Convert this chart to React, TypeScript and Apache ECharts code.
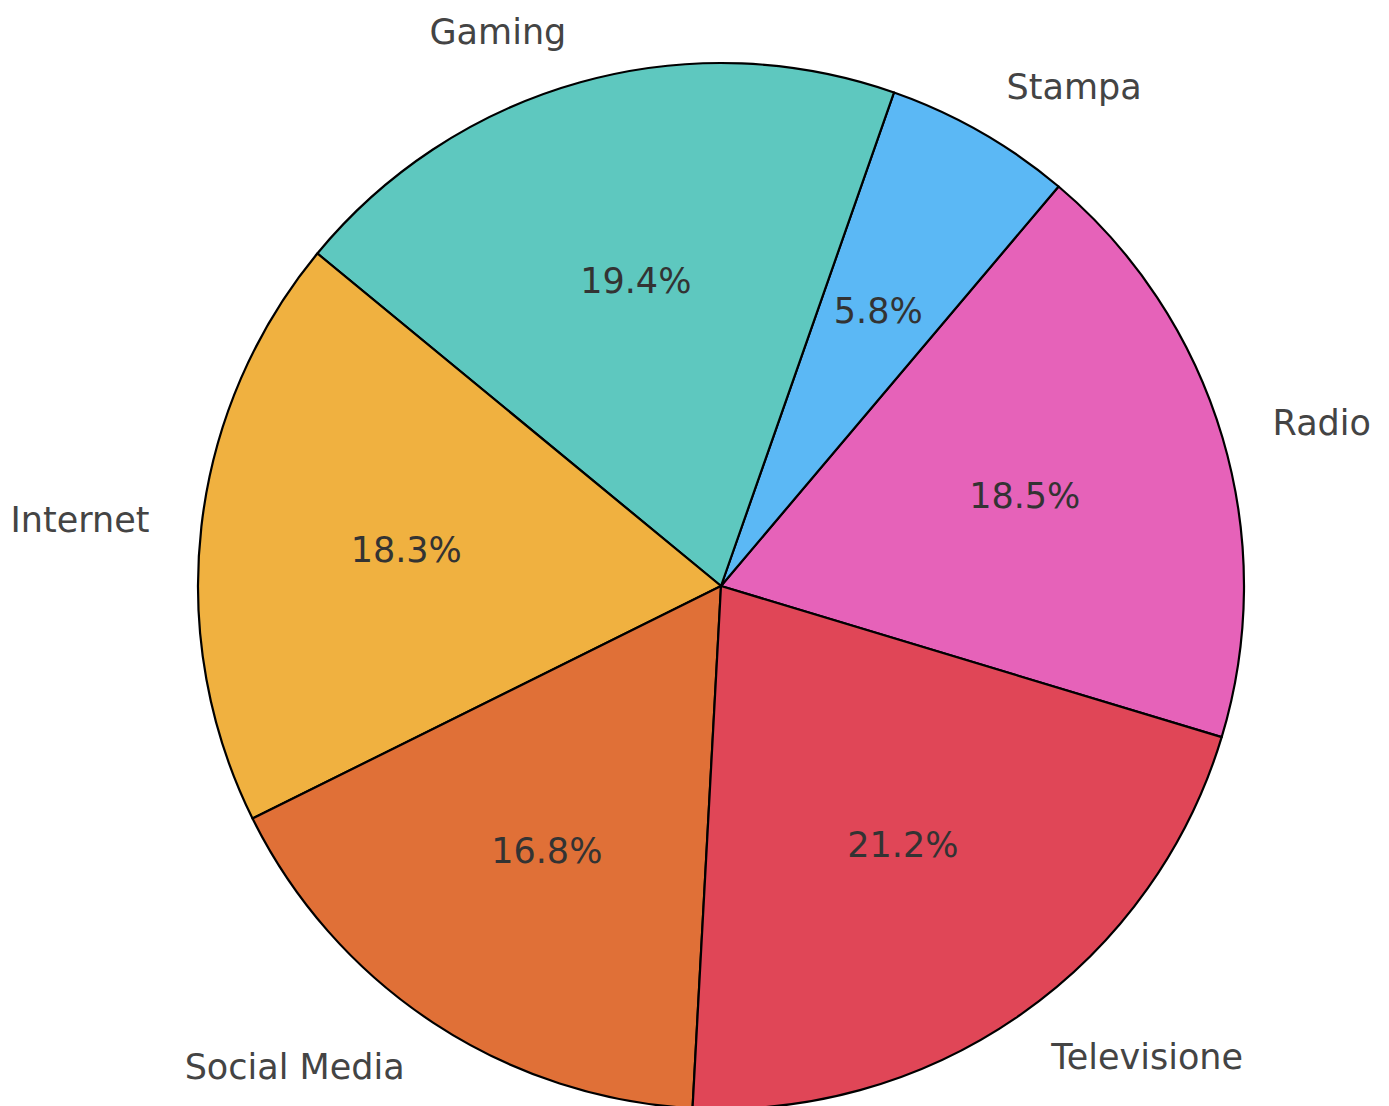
import React, { useEffect, useRef } from "react";
import * as echarts from "echarts";

const categories = ["Radio", "Stampa", "Gaming", "Internet", "Social Media", "Televisione"];
const values = [18.5, 5.8, 19.4, 18.3, 16.8, 21.2];
const colors = ["#E662B9", "#5BB8F5", "#5EC8BF", "#F0B140", "#E07037", "#E04657"];

export default function App() {
  const ref = useRef<HTMLDivElement>(null);
  useEffect(() => {
    const chart = echarts.init(ref.current!, null, { renderer: "svg" });
    const R = 523;
    const center = [721, 586];
    const data = categories.map((name, i) => ({
      name,
      value: values[i],
      itemStyle: { color: colors[i] },
    }));
    chart.setOption({
      animation: false,
      backgroundColor: "#ffffff",
      series: [
        {
          type: "pie",
          center,
          radius: [0, R],
          startAngle: -16.8,
          clockwise: false,
          avoidLabelOverlap: false,
          silent: true,
          itemStyle: { borderColor: "#000000", borderWidth: 2.2 },
          label: {
            show: true,
            position: "outside",
            fontFamily: "DejaVu Sans",
            fontSize: 35,
            color: "#444444",
            distanceToLabelLine: 0,
            overflow: "none",
            bleedMargin: 0,
          },
          labelLine: { show: false, length: R * 0.1, length2: 0 },
          emphasis: { disabled: true },
          data,
        },
        {
          type: "pie",
          z: 3,
          center,
          radius: [0, R * 1.2],
          startAngle: -16.8,
          clockwise: false,
          avoidLabelOverlap: false,
          silent: true,
          itemStyle: { color: "rgba(0,0,0,0)", borderWidth: 0 },
          label: {
            show: true,
            position: "inside",
            fontFamily: "DejaVu Sans",
            fontSize: 35,
            color: "#333333",
            formatter: (p: any) => p.percent.toFixed(1) + "%",
          },
          labelLine: { show: false },
          emphasis: { disabled: true },
          data: categories.map((name, i) => ({ name, value: values[i] })),
        },
      ],
    });
    return () => chart.dispose();
  }, []);
  return (
    <div
      ref={ref}
      style={{ position: "fixed", left: 0, top: 0, width: 1389, height: 1106 }}
    />
  );
}
